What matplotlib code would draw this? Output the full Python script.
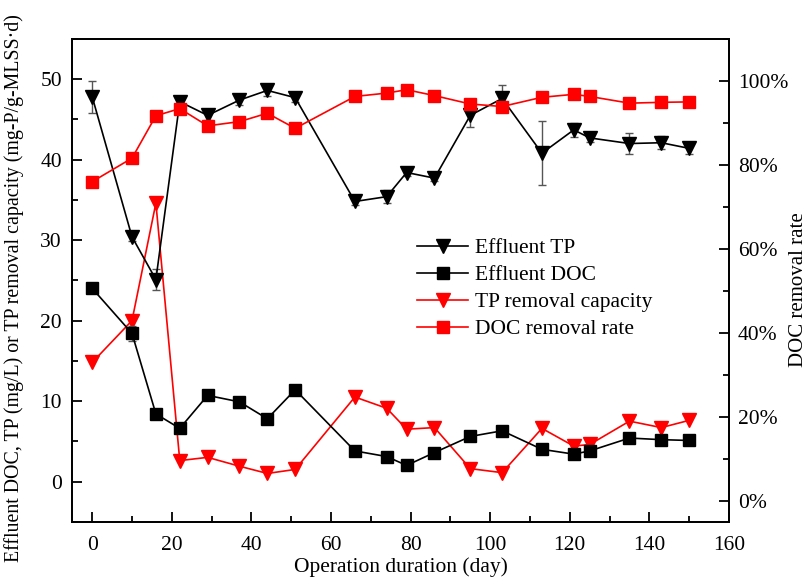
import matplotlib
matplotlib.use("Agg")
import matplotlib.pyplot as plt
from matplotlib.lines import Line2D
from matplotlib.ticker import MultipleLocator, FuncFormatter

plt.rcParams['font.family'] = ['Liberation Serif', 'DejaVu Serif']

# operation days
days = [0, 10, 16, 22, 29, 37, 44, 51, 66, 74, 79, 86, 95, 103, 113, 121, 125, 135, 143, 150]

# effluent TP (mg/L) and its error
tp = [47.8, 30.4, 25.1, 47.2, 45.5, 47.4, 48.6, 47.7, 34.8, 35.4,
      38.4, 37.7, 45.5, 47.6, 40.8, 43.7, 42.7, 42.0, 42.1, 41.4]
tp_err = [2.0, 0.5, 1.3, 0.5, 0.6, 0.6, 0.7, 0.5, 0.4, 0.8,
          0.4, 0.3, 1.5, 1.7, 4.0, 0.9, 0.5, 1.3, 0.8, 0.7]

# effluent DOC (mg/L) and its error
doc = [24.0, 18.4, 8.4, 6.6, 10.7, 9.9, 7.8, 11.4, 3.8, 3.1,
       2.0, 3.6, 5.6, 6.3, 4.0, 3.4, 3.8, 5.4, 5.2, 5.1]
doc_err = [0.3, 0.9, 0.3, 0.2, 0.2, 0.2, 0.2, 0.3, 0.2, 0.2,
           0.2, 0.2, 0.2, 0.2, 0.2, 0.2, 0.2, 0.2, 0.2, 0.2]

# TP removal capacity (mg-P/g-MLSS·d)
tp_cap = [14.8, 20.0, 34.6, 2.6, 3.0, 1.9, 1.0, 1.5, 10.5, 9.1,
          6.5, 6.7, 1.6, 1.1, 6.6, 4.4, 4.6, 7.5, 6.7, 7.6]

# DOC removal rate (%)
doc_rate = [76.0, 81.6, 91.7, 93.4, 89.3, 90.3, 92.3, 88.7, 96.3, 97.1,
            97.9, 96.5, 94.5, 93.9, 96.1, 96.8, 96.3, 94.7, 94.9, 95.0]

fig = plt.figure(figsize=(8.08, 5.81), dpi=100)
ax = fig.add_axes([0.0895, 0.102, 0.8127, 0.831])
ax2 = ax.twinx()

err_kw = dict(ecolor='#555555', elinewidth=1.0, capsize=3, capthick=1.0)

ax.errorbar(days, tp, yerr=tp_err, color='black', marker='v', markersize=10,
            lw=1.2, zorder=4, **err_kw)
ax.errorbar(days, doc, yerr=doc_err, color='black', marker='s', markersize=8,
            lw=1.2, zorder=4, **err_kw)
ax.plot(days, tp_cap, color='red', marker='v', markersize=10, lw=1.2, zorder=3)
ax2.plot(days, doc_rate, color='red', marker='s', markersize=8, lw=1.2)

ax.set_xlim(-5, 160)
ax.set_ylim(-5, 55)
ax2.set_ylim(-5, 110)

ax.xaxis.set_major_locator(MultipleLocator(20))
ax.xaxis.set_minor_locator(MultipleLocator(10))
ax.yaxis.set_major_locator(MultipleLocator(10))
ax.yaxis.set_minor_locator(MultipleLocator(5))
ax2.yaxis.set_major_locator(MultipleLocator(20))
ax2.yaxis.set_minor_locator(MultipleLocator(10))
ax2.yaxis.set_major_formatter(FuncFormatter(lambda v, p: f'{v:.0f}%'))

ax.tick_params(axis='both', which='major', direction='in', length=7.5, width=1.3,
               labelsize=15.5, pad=7.5)
ax.tick_params(axis='both', which='minor', direction='in', length=4, width=1.3)
ax.tick_params(axis='x', pad=10)
ax2.tick_params(axis='y', which='major', direction='in', length=7.5, width=1.3,
                labelsize=15.5, pad=6.5)
ax2.tick_params(axis='y', which='minor', direction='in', length=4, width=1.3)

for a in (ax, ax2):
    for s in a.spines.values():
        s.set_linewidth(1.3)

ax.set_xlabel('Operation duration (day)', fontsize=15.5, labelpad=2)
ax.set_ylabel('Effluent DOC, TP (mg/L) or TP removal capacity (mg-P/g-MLSS·d)',
              fontsize=14.3)
ax.yaxis.set_label_coords(-0.074, 0.484)
ax2.set_ylabel('DOC removal rate', fontsize=15)
ax2.yaxis.set_label_coords(1.091, 0.48)

handles = [
    Line2D([], [], color='black', marker='v', markersize=10, lw=1.2),
    Line2D([], [], color='black', marker='s', markersize=8, lw=1.2),
    Line2D([], [], color='red', marker='v', markersize=10, lw=1.2),
    Line2D([], [], color='red', marker='s', markersize=8, lw=1.2),
]
labels = ['Effluent TP', 'Effluent DOC', 'TP removal capacity', 'DOC removal rate']
fig.legend(handles, labels,
           loc='center left', bbox_to_anchor=(416.7 / 808, 1 - 288.7 / 581),
           frameon=False, fontsize=15.5, handlelength=2.4, handletextpad=0.3,
           labelspacing=0.32, borderpad=0, borderaxespad=0)

fig.savefig('out.png', dpi=100)
